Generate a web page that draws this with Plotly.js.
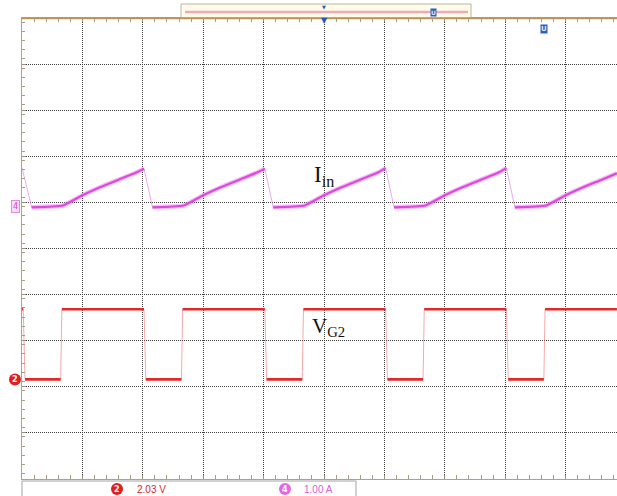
<!DOCTYPE html>
<html><head><meta charset="utf-8">
<script src="https://cdn.plot.ly/plotly-3.0.1.min.js"></script>
<style>html,body{margin:0;padding:0;background:#fff;overflow:hidden;} #chart{width:617px;height:496px;}</style>
</head><body><div id="chart"></div>
<script>
// ---- data (time in screen divisions) ----
// Channel 4: input current Iin (A), 1.00 A/div
const iinT = [0.00,0.16,0.68,1.00,1.30,1.60,1.90,2.02,
              2.16,2.68,3.00,3.30,3.60,3.90,4.02,
              4.16,4.68,5.00,5.30,5.60,5.90,6.02,
              6.16,6.68,7.00,7.30,7.60,7.90,8.02,
              8.16,8.68,9.00,9.30,9.60,9.85];
const iinA = [0.84,-0.02,0.02,0.24,0.42,0.58,0.74,0.82,
              -0.02,0.02,0.24,0.42,0.58,0.74,0.82,
              -0.02,0.02,0.24,0.42,0.58,0.74,0.83,
              -0.02,0.02,0.24,0.42,0.58,0.74,0.83,
              -0.02,0.02,0.24,0.42,0.58,0.72];
// Channel 2: gate voltage VG2 (V), 2.03 V/div
const vgT = [0.00,0.02,0.05,0.64,0.66,2.02,2.05,2.64,2.66,4.02,4.05,4.64,4.66,
             6.02,6.05,6.64,6.66,8.02,8.05,8.64,8.66,9.85];
const vgV = [3.09,3.09,0.00,0.00,3.09,3.09,0.00,0.00,3.09,3.09,0.00,0.00,3.09,
             3.09,0.00,0.00,3.09,3.09,0.00,0.00,3.09,3.09];
const ch2Scale = "2.03 V";
const ch4Scale = "1.00 A";
const labelIin = "I<sub>in</sub>";
const labelVg = "V<sub>G2</sub>";

// screen geometry
const W = 617, H = 496, L = 22, T = 18, B = 17;
const divPxX = 60.4;
const ch4Ground = 5.913, ch2Ground = 2.16, ch2PerDiv = 2.03, ch4PerDiv = 1.0;
const plotW = W - L, plotH = H - T - B;
const px = x => (x - L) / plotW;        // pixel -> paper x
const py = y => (H - B - y) / plotH;    // pixel -> paper y

// split waveform into thick plateaus and faint edges
function thick(t, v, isEdge) {
  const xs = [], ys = [];
  for (let i = 0; i < t.length; i++) {
    xs.push(t[i]); ys.push(v[i]);
    if (i < t.length - 1 && isEdge(v[i], v[i + 1])) { xs.push(null); ys.push(null); }
  }
  return {xs, ys};
}
const iinThick = thick(iinT, iinA, (a, b) => b < a - 0.2);
const vgThick = thick(vgT, vgV, (a, b) => Math.abs(b - a) > 0.5);

const traces = [
  {x: iinT, y: iinA, yaxis: 'y', mode: 'lines', line: {color: 'rgba(225,110,225,0.6)', width: 1}, hoverinfo: 'skip'},
  {x: iinThick.xs, y: iinThick.ys, yaxis: 'y', mode: 'lines', connectgaps: false,
   line: {color: 'rgba(230,110,230,0.45)', width: 4.5, shape: 'spline', smoothing: 0.4}, hoverinfo: 'skip'},
  {x: iinThick.xs, y: iinThick.ys, yaxis: 'y', mode: 'lines', connectgaps: false,
   line: {color: '#df48df', width: 2.2, shape: 'spline', smoothing: 0.4}, hoverinfo: 'skip'},
  {x: vgT, y: vgV, yaxis: 'y2', mode: 'lines', line: {color: 'rgba(235,100,100,0.55)', width: 1}, hoverinfo: 'skip'},
  {x: vgThick.xs, y: vgThick.ys, yaxis: 'y2', mode: 'lines', connectgaps: false,
   line: {color: '#e02a2a', width: 2.6}, hoverinfo: 'skip'}
];

const gridCol = '#3c3c3c';
const layout = {
  width: W, height: H, showlegend: false,
  margin: {l: L, r: 0, t: T, b: B, pad: 0},
  paper_bgcolor: '#ffffff', plot_bgcolor: '#ffffff',
  xaxis: {range: [0, plotW / divPxX], tick0: 0, dtick: 1, showgrid: true, gridcolor: gridCol,
          griddash: '1px,1px', gridwidth: 1, zeroline: false, showticklabels: false,
          ticks: 'inside', ticklen: 4, tickcolor: '#9a9080', showline: true, linecolor: '#aaa391',
          linewidth: 1, mirror: 'allticks',
          minor: {ticks: 'inside', dtick: 0.2, ticklen: 2.5, tickcolor: '#a89c84', showgrid: false}},
  // Ch4 axis (1 A per division); grid lines fall on the division boundaries
  yaxis: {range: [-ch4Ground * ch4PerDiv, (10 - ch4Ground) * ch4PerDiv], tick0: -ch4Ground * ch4PerDiv,
          dtick: ch4PerDiv, showgrid: true, gridcolor: gridCol,
          griddash: '1px,1px', gridwidth: 1, zeroline: false, showticklabels: false,
          ticks: 'inside', ticklen: 4, tickcolor: '#9a9080', showline: true, linecolor: '#aaa391',
          linewidth: 1,
          minor: {ticks: 'inside', dtick: ch4PerDiv / 5, ticklen: 2.5, tickcolor: '#a89c84', showgrid: false}},
  // Ch2 axis (2.03 V per division)
  yaxis2: {overlaying: 'y', visible: false, range: [-ch2Ground * ch2PerDiv, (10 - ch2Ground) * ch2PerDiv]},
  shapes: [
    // top info bar
    {type: 'rect', xref: 'paper', yref: 'paper', x0: px(181), x1: px(471), y0: py(18), y1: py(4),
     fillcolor: '#fefce8', line: {color: '#b9b4a4', width: 1}},
    {type: 'line', xref: 'paper', yref: 'paper', x0: px(185), x1: px(468), y0: py(12), y1: py(12),
     line: {color: '#f2a8b6', width: 2.5}},
    // top graticule edge
    {type: 'line', xref: 'paper', yref: 'paper', x0: 0, x1: 1, y0: py(18.3), y1: py(18.3),
     line: {color: '#bb9458', width: 2}},
    // bottom status bar
    {type: 'rect', xref: 'paper', yref: 'paper', x0: px(22), x1: px(356), y0: py(499), y1: py(481),
     fillcolor: '#ffffff', line: {color: '#a3a3a3', width: 1}},
    {type: 'circle', xref: 'paper', yref: 'paper', xsizemode: 'pixel', ysizemode: 'pixel',
     xanchor: px(117), yanchor: py(489), x0: -6, x1: 6, y0: -6, y1: 6, fillcolor: '#e01f1f', line: {width: 0}},
    {type: 'circle', xref: 'paper', yref: 'paper', xsizemode: 'pixel', ysizemode: 'pixel',
     xanchor: px(285), yanchor: py(489), x0: -6, x1: 6, y0: -6, y1: 6, fillcolor: '#e466e4', line: {width: 0}},
    // ch2 ground marker
    {type: 'circle', xref: 'paper', yref: 'y2', xsizemode: 'pixel', ysizemode: 'pixel',
     xanchor: px(15), yanchor: 0, x0: -6, x1: 6, y0: -6, y1: 6, fillcolor: '#e01f1f', line: {width: 0}}
  ],
  annotations: [
    {xref: 'x', yref: 'paper', x: (324 - L) / divPxX, y: py(176), text: labelIin, showarrow: false,
     font: {family: 'Liberation Serif', size: 23, color: '#111'}, xanchor: 'center', yanchor: 'middle'},
    {xref: 'x', yref: 'paper', x: (328 - L) / divPxX, y: py(327), text: labelVg, showarrow: false,
     font: {family: 'Liberation Serif', size: 21, color: '#111'}, xanchor: 'center', yanchor: 'middle'},
    // ch4 ground marker
    {xref: 'paper', yref: 'y', x: px(15.5), y: 0, text: '4', showarrow: false,
     font: {family: 'DejaVu Sans', size: 8, color: '#d24ad2'}, bgcolor: '#f7dcf7', bordercolor: '#e08ae0',
     borderwidth: 1, borderpad: 1, xanchor: 'center', yanchor: 'middle'},
    {xref: 'paper', yref: 'y2', x: px(15), y: 0, text: '<b>2</b>', showarrow: false,
     font: {family: 'DejaVu Sans', size: 8, color: '#ffffff'}, xanchor: 'center', yanchor: 'middle'},
    // bottom bar
    {xref: 'paper', yref: 'paper', x: px(117), y: py(489), text: '<b>2</b>', showarrow: false,
     font: {family: 'DejaVu Sans', size: 8, color: '#ffffff'}, xanchor: 'center', yanchor: 'middle'},
    {xref: 'paper', yref: 'paper', x: px(135), y: py(489), text: ch2Scale, showarrow: false,
     font: {family: 'Liberation Sans', size: 10, color: '#d42a2a'}, xanchor: 'left', yanchor: 'middle'},
    {xref: 'paper', yref: 'paper', x: px(285), y: py(489), text: '<b>4</b>', showarrow: false,
     font: {family: 'DejaVu Sans', size: 8, color: '#ffffff'}, xanchor: 'center', yanchor: 'middle'},
    {xref: 'paper', yref: 'paper', x: px(302), y: py(489), text: ch4Scale, showarrow: false,
     font: {family: 'Liberation Sans', size: 10, color: '#d460d4'}, xanchor: 'left', yanchor: 'middle'},
    // trigger / cursor markers
    {xref: 'paper', yref: 'paper', x: px(324), y: py(21), text: '▼', showarrow: false,
     font: {family: 'DejaVu Sans', size: 8, color: '#2456c0'}, xanchor: 'center', yanchor: 'middle'},
    {xref: 'paper', yref: 'paper', x: px(324), y: py(7), text: '▼', showarrow: false,
     font: {family: 'DejaVu Sans', size: 5, color: '#2456c0'}, xanchor: 'center', yanchor: 'middle'},
    {xref: 'paper', yref: 'paper', x: px(433), y: py(13), text: '<b>U</b>', showarrow: false,
     font: {family: 'DejaVu Sans', size: 6, color: '#dfe8ff'}, bgcolor: '#2b5fc4', borderpad: 0,
     xanchor: 'center', yanchor: 'middle'},
    {xref: 'paper', yref: 'paper', x: px(543.5), y: py(29), text: '<b>U</b>', showarrow: false,
     font: {family: 'DejaVu Sans', size: 7, color: '#dfe8ff'}, bgcolor: '#2b5fc4', borderpad: 0,
     xanchor: 'center', yanchor: 'middle'}
  ]
};

Plotly.newPlot('chart', traces, layout, {staticPlot: true, displayModeBar: false});
</script>
</body></html>
